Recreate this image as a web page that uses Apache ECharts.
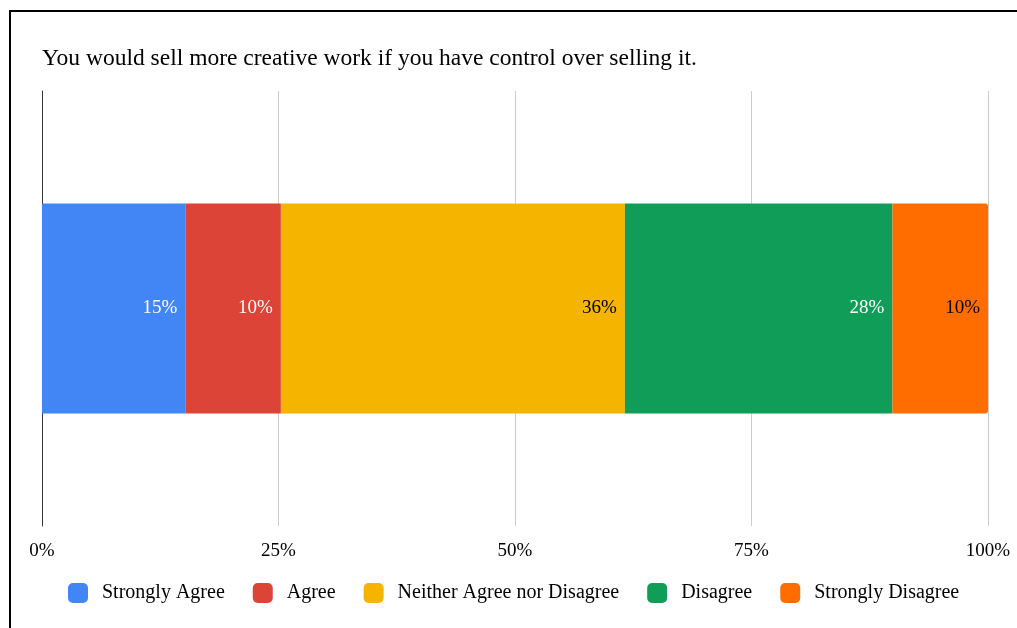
<!DOCTYPE html>
<html>
<head>
<meta charset="utf-8">
<script src="https://cdn.jsdelivr.net/npm/echarts@6/dist/echarts.min.js"></script>
<style>
  html, body { margin: 0; padding: 0; background: #fff; }
  #chart { width: 1017px; height: 628px; }
</style>
</head>
<body>
<div id="chart"></div>
<script>
// Survey response counts for one statement, shown as a 100% stacked bar
const question = 'You would sell more creative work if you have control over selling it.';
const responses = ['Strongly Agree', 'Agree', 'Neither Agree nor Disagree', 'Disagree', 'Strongly Disagree'];
const counts = [15, 10, 36, 28, 10];
const colors = ['#4285F4', '#DB4437', '#F4B400', '#0F9D58', '#FF6D01'];
const labelColors = ['#ffffff', '#ffffff', '#000000', '#ffffff', '#000000'];
const tickValues = [0, 25, 50, 75, 100];

const total = counts.reduce((a, b) => a + b, 0);
const shares = counts.map(c => c / total * 100);

const serif = '"Liberation Serif", "Times New Roman", serif';

const series = responses.map((name, i) => ({
  name: name,
  type: 'bar',
  stack: 'all',
  barWidth: 210,
  data: [shares[i]],
  itemStyle: {
    color: colors[i],
    borderRadius: i === responses.length - 1 ? [0, 3, 3, 0] : 0
  },
  label: {
    show: true,
    position: 'insideRight',
    distance: 8,
    color: labelColors[i],
    fontFamily: serif,
    fontSize: 19,
    formatter: p => Math.round(p.value) + '%'
  },
  emphasis: { disabled: true }
}));

const chart = echarts.init(document.getElementById('chart'), null, { renderer: 'canvas' });
chart.setOption({
  animation: false,
  textStyle: { fontFamily: serif },
  title: {
    text: question,
    left: 42,
    top: 47,
    padding: 0,
    textStyle: { fontFamily: serif, fontSize: 23.5, fontWeight: 'normal', color: '#000' }
  },
  graphic: [{
    type: 'rect',
    shape: { x: 10, y: 11, width: 1100, height: 700 },
    style: { fill: 'none', stroke: '#000', lineWidth: 2 },
    silent: true
  }],
  legend: {
    bottom: 25,
    left: 68,
    padding: 0,
    itemWidth: 20,
    itemHeight: 20,
    itemGap: 28,
    icon: 'roundRect',
    textStyle: { fontFamily: serif, fontSize: 20, color: '#000', padding: [0, 0, 0, 9] },
    data: responses
  },
  grid: { left: 42, right: 29, top: 91, bottom: 102 },
  xAxis: {
    type: 'value',
    min: 0,
    max: 100,
    interval: 25,
    axisLine: { show: false },
    axisTick: { show: false },
    splitLine: { lineStyle: { color: '#cccccc', width: 1 } },
    axisLabel: {
      color: '#000',
      fontFamily: serif,
      fontSize: 19,
      margin: 16,
      formatter: v => tickValues.includes(v) ? v + '%' : ''
    }
  },
  yAxis: {
    type: 'category',
    data: [''],
    axisLine: { show: true, lineStyle: { color: '#333', width: 1 } },
    axisTick: { show: false },
    axisLabel: { show: false }
  },
  series: series
});
</script>
</body>
</html>
